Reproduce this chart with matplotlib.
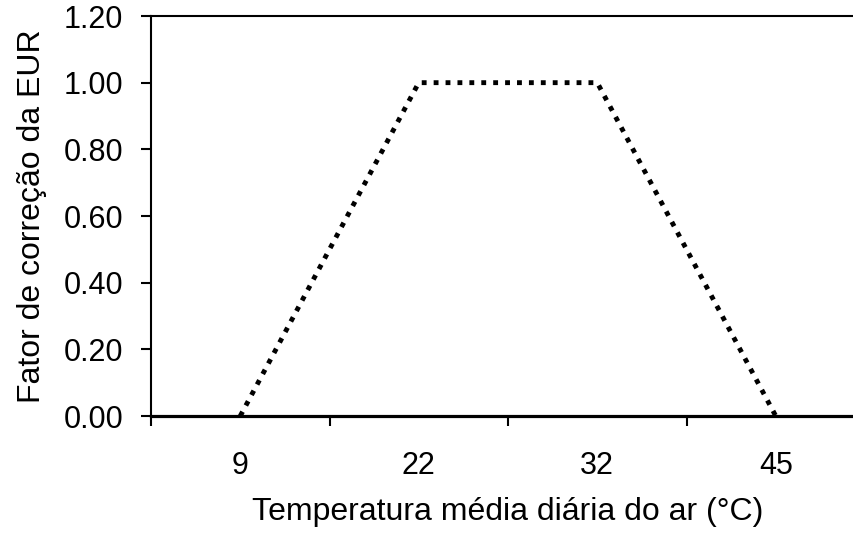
import matplotlib
matplotlib.use("Agg")
import matplotlib.pyplot as plt

plt.rcParams['font.family'] = ['Liberation Sans', 'DejaVu Sans']

temperaturas = ["9", "22", "32", "45"]
fator = [0.0, 1.0, 1.0, 0.0]
y_ticks = [0.0, 0.2, 0.4, 0.6, 0.8, 1.0, 1.2]

fig = plt.figure(figsize=(8.54, 5.35), dpi=100)
ax = fig.add_axes([151 / 854, 1 - 416 / 535, (865 - 151) / 854, 400 / 535])

x = list(range(len(temperaturas)))
ax.plot(x, fator, color='black', linewidth=3.5, linestyle=(0, (1, 1.45)), clip_on=False)

ax.set_xlim(-0.5, len(temperaturas) - 0.5)
ax.set_ylim(0, 1.2)
ax.set_yticks(y_ticks)
ax.set_yticklabels([f"{v:.2f}" for v in y_ticks])
ax.set_xticks(x)
ax.set_xticklabels(temperaturas)
ax.set_xticks([i - 0.5 for i in range(len(temperaturas) + 1)], minor=True)
ax.tick_params(axis='x', which='major', length=0, pad=25, labelsize=22)
ax.tick_params(axis='x', which='minor', length=7, width=1.5, direction='out')
ax.tick_params(axis='y', length=7, width=1.5, direction='out', pad=13, labelsize=22)

ax.spines['right'].set_visible(False)
ax.spines['top'].set_linewidth(1.5)
ax.spines['left'].set_linewidth(1.5)
ax.spines['bottom'].set_linewidth(2.3)

ax.set_xlabel("Temperatura média diária do ar (°C)", fontsize=23, labelpad=12)
ax.set_ylabel("Fator de correção da EUR", fontsize=23, labelpad=12)

fig.savefig("out.png", dpi=100)
